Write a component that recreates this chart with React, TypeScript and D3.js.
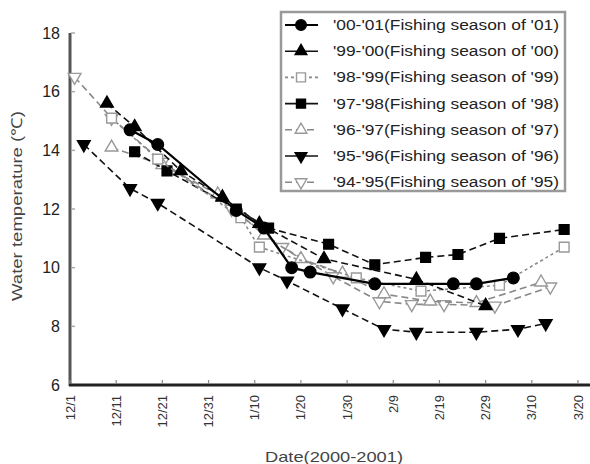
import React from "react";
import * as d3 from "d3";

const tickLabels = ["12/1","12/11","12/21","12/31","1/10","1/20","1/30","2/9","2/19","2/29","3/10","3/20"];
const yTicks = [6, 8, 10, 12, 14, 16, 18];

const s0001Dates = ["12/14","12/20","1/6","1/12","1/18","1/22","2/5","2/22","2/27","3/6"];
const s0001Temps = [14.7,14.2,11.95,11.35,10.0,9.85,9.45,9.45,9.45,9.65];

const s9900Dates = ["12/9","12/15","12/25","1/3","1/11","1/25","2/14","2/29"];
const s9900Temps = [15.6,14.8,13.3,12.4,11.5,10.3,9.6,8.7];

const s9899Dates = ["12/10","12/20","1/7","1/11","2/1","2/15","3/3","3/17"];
const s9899Temps = [15.1,13.7,11.7,10.7,9.65,9.2,9.4,10.7];

const s9798Dates = ["12/15","12/22","1/6","1/13","1/26","2/5","2/16","2/23","3/3","3/17"];
const s9798Temps = [13.95,13.3,12.0,11.35,10.8,10.1,10.35,10.45,11.0,11.3];

const s9697Dates = ["12/10","12/21","1/2","1/12","1/20","1/29","2/7","2/17","2/27","3/12"];
const s9697Temps = [14.1,13.5,12.5,11.1,10.3,9.8,9.1,8.85,8.8,9.5];

const s9596Dates = ["12/4","12/14","12/20","1/11","1/17","1/29","2/7","2/14","2/27","3/7","3/13"];
const s9596Temps = [14.2,12.7,12.2,10.0,9.55,8.6,7.9,7.8,7.8,7.9,8.1];

const s9495Dates = ["12/2","12/10","12/21","1/5","1/16","1/27","2/6","2/13","2/20","3/2","3/14"];
const s9495Temps = [16.5,15.1,13.6,12.0,10.7,9.7,8.85,8.75,8.75,8.7,9.35];

const seriesNames = [
  "'00-'01(Fishing season of '01)",
  "'99-'00(Fishing season of '00)",
  "'98-'99(Fishing season of '99)",
  "'97-'98(Fishing season of '98)",
  "'96-'97(Fishing season of '97)",
  "'95-'96(Fishing season of '96)",
  "'94-'95(Fishing season of '95)",
];

function parseMD(s: string): Date {
  const [m, d] = s.split("/").map(Number);
  return new Date(m === 12 ? 1999 : 2000, m - 1, d);
}

type Style = {
  shape: string; filled: boolean; dash: string; color: string; width: number;
};
const styles: Style[] = [
  { shape: "circle", filled: true, dash: "", color: "#000", width: 2.2 },
  { shape: "triUp", filled: true, dash: "7,4", color: "#111", width: 1.6 },
  { shape: "square", filled: false, dash: "3,3", color: "#888", width: 1.6 },
  { shape: "square", filled: true, dash: "7,4", color: "#111", width: 1.6 },
  { shape: "triUp", filled: false, dash: "7,4", color: "#888", width: 1.6 },
  { shape: "triDown", filled: true, dash: "7,4", color: "#111", width: 1.6 },
  { shape: "triDown", filled: false, dash: "7,4", color: "#888", width: 1.6 },
];

const seriesDates = [s0001Dates, s9900Dates, s9899Dates, s9798Dates, s9697Dates, s9596Dates, s9495Dates];
const seriesTemps = [s0001Temps, s9900Temps, s9899Temps, s9798Temps, s9697Temps, s9596Temps, s9495Temps];

function Marker({ st, x, y, k = 1 }: { st: Style; x: number; y: number; k?: number }) {
  const fill = st.filled ? "#000" : "#fff";
  const stroke = st.filled ? "#000" : "#999";
  let d = "";
  if (st.shape === "circle") d = d3.symbol(d3.symbolCircle, 105 * k)()!;
  else if (st.shape === "square") d = d3.symbol(d3.symbolSquare, 95 * k)()!;
  else d = d3.symbol(d3.symbolTriangle, 70 * k)()!;
  const rot = st.shape === "triDown" ? " rotate(180)" : "";
  return <path d={d} transform={`translate(${x},${y})${rot}`} fill={fill} stroke={stroke} strokeWidth={1.4} />;
}

export default function App() {
  const W = 590, H = 464;
  const x = d3.scaleTime().domain([parseMD("12/1"), parseMD("3/20")]).range([70, 578]);
  const y = d3.scaleLinear().domain([6, 18]).range([385, 33]);
  const ticks = tickLabels.map(parseMD);
  const font = "'Liberation Sans', Arial, sans-serif";

  const order = [6, 5, 4, 3, 2, 1, 0];

  return (
    <svg width={W} height={H} style={{ position: "absolute", left: 0, top: 0, background: "#fff" }} fontFamily={font}>
      <rect width={W} height={H} fill="#fff" />
      {/* Y axis */}
      <line x1={70} x2={70} y1={y(18)} y2={386} stroke="#555" strokeWidth={3} />
      {yTicks.map((t) => (
        <g key={t}>
          <line x1={71} x2={75} y1={y(t)} y2={y(t)} stroke="#aaa" strokeWidth={1.5} />
          <text x={60} y={y(t)} dy="0.36em" textAnchor="end" fontSize={16} fill="#222">{t}</text>
        </g>
      ))}
      {/* X axis */}
      <line x1={69} x2={590} y1={385} y2={385} stroke="#222" strokeWidth={3} />
      {ticks.map((t, i) => (
        <g key={i}>
          <line x1={x(t)} x2={x(t)} y1={380} y2={384} stroke="#888" strokeWidth={1.2} />
          <text transform={`translate(${x(t)},395) rotate(-90)`} dy="0.35em" textAnchor="end" fontSize={13} fill="#333">{tickLabels[i]}</text>
        </g>
      ))}
      <text x={334} y={462} textAnchor="middle" fontSize={15} fill="#444" textLength={138} lengthAdjust="spacingAndGlyphs">Date(2000-2001)</text>
      <text transform="translate(22,206) rotate(-90)" textAnchor="middle" fontSize={15} fill="#444" textLength={190} lengthAdjust="spacingAndGlyphs">Water temperature (℃)</text>

      {/* series */}
      {order.map((si) => {
        const st = styles[si];
        const pts = seriesDates[si].map((d, j) => [x(parseMD(d)), y(seriesTemps[si][j])] as [number, number]);
        const line = d3.line()(pts)!;
        return (
          <g key={si}>
            <path d={line} fill="none" stroke={st.color} strokeWidth={st.width} strokeDasharray={st.dash || undefined} />
            {pts.map((p, j) => <Marker key={j} st={st} x={p[0]} y={p[1]} />)}
          </g>
        );
      })}

      {/* legend */}
      <rect x={281} y={12} width={284} height={179} fill="#fff" stroke="#999" strokeWidth={2.5} />
      {seriesNames.map((n, i) => {
        const ly = 25 + i * 26.2;
        const st = styles[i];
        return (
          <g key={i}>
            <line x1={285} x2={318} y1={ly} y2={ly} stroke={st.color} strokeWidth={st.width} strokeDasharray={st.filled && st.shape !== "circle" ? undefined : st.dash || undefined} />
            <Marker st={st} x={301} y={ly} k={0.85} />
            <text x={333} y={ly} dy="0.36em" fontSize={14} fill="#222" textLength={226} lengthAdjust="spacingAndGlyphs">{n}</text>
          </g>
        );
      })}
    </svg>
  );
}
